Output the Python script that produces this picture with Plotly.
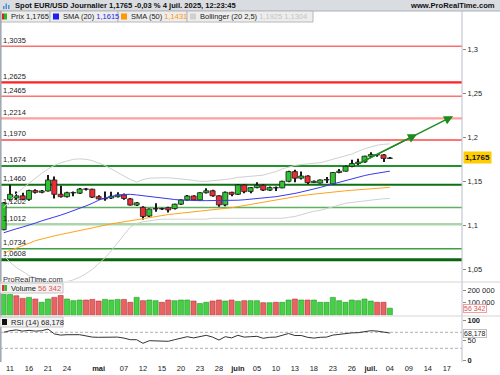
import plotly.graph_objects as go

# ---------------- data ----------------
dates = ["10/04", "11/04", "14/04", "15/04", "16/04", "17/04", "18/04", "21/04", "22/04", "23/04",
         "24/04", "25/04", "28/04", "29/04", "30/04", "01/05", "02/05", "05/05", "06/05", "07/05",
         "08/05", "09/05", "12/05", "13/05", "14/05", "15/05", "16/05", "19/05", "20/05", "21/05",
         "22/05", "23/05", "26/05", "27/05", "28/05", "29/05", "30/05", "02/06", "03/06", "04/06",
         "05/06", "06/06", "09/06", "10/06", "11/06", "12/06", "13/06", "16/06", "17/06", "18/06",
         "19/06", "20/06", "23/06", "24/06", "25/06", "26/06", "27/06", "30/06", "01/07", "02/07",
         "03/07", "04/07"]
future_dates = ["07/07", "08/07", "09/07", "10/07", "11/07", "14/07", "15/07", "16/07", "17/07",
                "18/07", "21/07"]

opens = [1.0950, 1.1295, 1.1310, 1.1335, 1.1295, 1.1395, 1.1375, 1.1390, 1.1515, 1.1352,
         1.1325, 1.1368, 1.1365, 1.1412, 1.1410, 1.1325, 1.1300, 1.1310, 1.1325, 1.1345,
         1.1300, 1.1230, 1.1205, 1.1105, 1.1185, 1.1190, 1.1200, 1.1190, 1.1240, 1.1288,
         1.1333, 1.1288, 1.1370, 1.1392, 1.1335, 1.1232, 1.1375, 1.1352, 1.1458, 1.1385,
         1.1428, 1.1455, 1.1400, 1.1428, 1.1425, 1.1500, 1.1610, 1.1535, 1.1560, 1.1485,
         1.1480, 1.1515, 1.1470, 1.1600, 1.1615, 1.1670, 1.1700, 1.1720, 1.1785, 1.1802,
         1.1800, 1.1760]
highs = [1.1265, 1.1460, 1.1385, 1.1370, 1.1405, 1.1410, 1.1400, 1.1572, 1.1555, 1.1450,
         1.1380, 1.1385, 1.1425, 1.1425, 1.1415, 1.1340, 1.1385, 1.1380, 1.1375, 1.1360,
         1.1310, 1.1265, 1.1215, 1.1190, 1.1250, 1.1200, 1.1210, 1.1245, 1.1295, 1.1345,
         1.1340, 1.1375, 1.1420, 1.1405, 1.1340, 1.1385, 1.1380, 1.1465, 1.1465, 1.1435,
         1.1490, 1.1465, 1.1440, 1.1440, 1.1505, 1.1620, 1.1630, 1.1610, 1.1570, 1.1510,
         1.1520, 1.1550, 1.1605, 1.1640, 1.1680, 1.1745, 1.1755, 1.1790, 1.1830, 1.1810,
         1.1810, 1.1775]
lows = [1.0945, 1.1270, 1.1290, 1.1285, 1.1280, 1.1360, 1.1365, 1.1385, 1.1305, 1.1315,
        1.1315, 1.1330, 1.1355, 1.1395, 1.1310, 1.1290, 1.1280, 1.1300, 1.1315, 1.1290,
        1.1225, 1.1220, 1.1065, 1.1095, 1.1155, 1.1175, 1.1145, 1.1180, 1.1230, 1.1280,
        1.1280, 1.1280, 1.1360, 1.1325, 1.1212, 1.1215, 1.1330, 1.1345, 1.1364, 1.1365,
        1.1420, 1.1390, 1.1390, 1.1390, 1.1420, 1.1490, 1.1490, 1.1520, 1.1465, 1.1480,
        1.1475, 1.1480, 1.1465, 1.1590, 1.1610, 1.1660, 1.1685, 1.1710, 1.1775, 1.1780,
        1.1720, 1.1755]
closes = [1.1255, 1.1352, 1.1335, 1.1295, 1.1395, 1.1375, 1.1390, 1.1515, 1.1352, 1.1325,
          1.1370, 1.1372, 1.1412, 1.1410, 1.1320, 1.1300, 1.1305, 1.1330, 1.1345, 1.1305,
          1.1230, 1.1255, 1.1100, 1.1185, 1.1190, 1.1185, 1.1175, 1.1240, 1.1288, 1.1333,
          1.1288, 1.1370, 1.1392, 1.1335, 1.1232, 1.1375, 1.1352, 1.1458, 1.1382, 1.1428,
          1.1455, 1.1400, 1.1428, 1.1425, 1.1500, 1.1610, 1.1535, 1.1560, 1.1485, 1.1500,
          1.1515, 1.1520, 1.1600, 1.1615, 1.1670, 1.1702, 1.1718, 1.1785, 1.1805, 1.1800,
          1.1760, 1.1765]

sma20 = [1.0915, 1.0940, 1.0960, 1.0980, 1.1000, 1.1025, 1.1050, 1.1070, 1.1095, 1.1115,
         1.1140, 1.1165, 1.1190, 1.1220, 1.1250, 1.1285, 1.1310, 1.1330, 1.1344, 1.1350,
         1.1352, 1.1345, 1.1335, 1.1325, 1.1315, 1.1307, 1.1300, 1.1293, 1.1287, 1.1283,
         1.1280, 1.1280, 1.1280, 1.1280, 1.1280, 1.1280, 1.1282, 1.1285, 1.1290, 1.1295,
         1.1302, 1.1310, 1.1318, 1.1325, 1.1335, 1.1348, 1.1362, 1.1378, 1.1393, 1.1410,
         1.1430, 1.1450, 1.1470, 1.1490, 1.1510, 1.1530, 1.1550, 1.1565, 1.1580, 1.1593,
         1.1605, 1.1615]
sma50 = [1.0680, 1.0715, 1.0740, 1.0765, 1.0795, 1.0825, 1.0845, 1.0865, 1.0880, 1.0895,
         1.0910, 1.0928, 1.0945, 1.0962, 1.0978, 1.0992, 1.1004, 1.1016, 1.1028, 1.1040,
         1.1049, 1.1062, 1.1075, 1.1090, 1.1103, 1.1115, 1.1122, 1.1130, 1.1137, 1.1144,
         1.1151, 1.1158, 1.1166, 1.1174, 1.1182, 1.1190, 1.1200, 1.1212, 1.1225, 1.1238,
         1.1252, 1.1266, 1.1280, 1.1293, 1.1305, 1.1318, 1.1328, 1.1337, 1.1346, 1.1355,
         1.1363, 1.1370, 1.1378, 1.1385, 1.1392, 1.1398, 1.1404, 1.1410, 1.1416, 1.1421,
         1.1426, 1.1431]
boll_up = [1.120, 1.128, 1.136, 1.142, 1.148, 1.154, 1.159, 1.164, 1.168, 1.171,
           1.173, 1.175, 1.1755, 1.175, 1.1735, 1.171, 1.168, 1.164, 1.160, 1.156,
           1.152, 1.149, 1.152, 1.1535, 1.154, 1.154, 1.154, 1.1535, 1.153, 1.152,
           1.151, 1.150, 1.150, 1.1505, 1.151, 1.152, 1.153, 1.1545, 1.155, 1.1555,
           1.156, 1.157, 1.159, 1.161, 1.164, 1.166, 1.168, 1.169, 1.170, 1.1705,
           1.171, 1.173, 1.175, 1.177, 1.179, 1.181, 1.184, 1.187, 1.189, 1.191,
           1.1920, 1.1925]
boll_dn = [1.066, 1.058, 1.052, 1.047, 1.043, 1.040, 1.038, 1.036, 1.035, 1.035,
           1.036, 1.038, 1.041, 1.045, 1.050, 1.056, 1.063, 1.071, 1.080, 1.090,
           1.098, 1.102, 1.104, 1.105, 1.106, 1.107, 1.107, 1.107, 1.107, 1.107,
           1.107, 1.107, 1.107, 1.108, 1.108, 1.108, 1.108, 1.108, 1.108, 1.108,
           1.108, 1.108, 1.108, 1.108, 1.108, 1.109, 1.110, 1.112, 1.114, 1.116,
           1.117, 1.119, 1.121, 1.123, 1.125, 1.126, 1.127, 1.128, 1.129, 1.130,
           1.1302, 1.1304]
volumes = [165000, 165000, 155000, 134000, 142000, 129000, 103000, 129000, 142000, 157000,
           129000, 116000, 121000, 121000, 126000, 113000, 126000, 121000, 126000, 126000,
           103000, 142000, 116000, 121000, 116000, 103000, 121000, 116000, 121000, 121000,
           113000, 94000, 103000, 113000, 121000, 113000, 121000, 110000, 116000, 116000,
           116000, 100000, 100000, 103000, 103000, 121000, 129000, 121000, 121000, 121000,
           103000, 103000, 142000, 116000, 103000, 121000, 116000, 129000, 113000, 103000,
           103000, 56342]
rsi = [70, 74, 76, 73, 75, 73, 74, 78, 66, 63,
       64, 64, 64, 61, 58, 57.5, 57.5, 59, 58, 55.5,
       51.5, 51.5, 42.5, 49, 49, 48, 47.5, 51.5, 56, 59,
       56, 60, 62.5, 58, 50.7, 59, 56, 62.5, 58, 59,
       60, 55, 57.5, 58, 62.5, 67, 62, 62, 57.5, 55.5,
       57.5, 58, 63, 65, 67.5, 68.5, 69, 72, 74, 73,
       70, 68.178]

levels = [1.3035, 1.2625, 1.2465, 1.2214, 1.1970, 1.1674, 1.1460, 1.1202, 1.1012, 1.0734, 1.0608]
level_labels = ["1,3035", "1,2625", "1,2465", "1,2214", "1,1970", "1,1674", "1,1460", "1,1202",
                "1,1012", "1,0734", "1,0608"]

trend_dates = ["27/06", "18/07"]
trend_prices = [1.1697, 1.2240]

tick_dates = ["11/04", "16/04", "21/04", "24/04", "01/05", "07/05", "12/05", "15/05", "20/05",
              "23/05", "28/05", "02/06", "05/06", "10/06", "13/06", "18/06", "23/06", "26/06",
              "01/07", "04/07", "09/07", "14/07", "17/07"]
tick_labels = ["11", "16", "21", "24", "<b>mai</b>", "07", "12", "15", "20", "23", "28",
               "<b>juin</b>", "05", "10", "13", "18", "23", "26", "<b>juil.</b>", "04", "09",
               "14", "17"]

price_ticks = [1.05, 1.1, 1.15, 1.2, 1.25, 1.3]
price_tick_text = ["1,05", "1,1", "1,15", "1,2", "1,25", "1,3"]

# --------------- styling / layout helpers ---------------
W, H = 500, 375
ML, MR, MT, MB = 0, 38, 22, 13
PW, PH = W - ML - MR, H - MT - MB
FONT = "Liberation Sans, Arial, sans-serif"


def xp(px):
    return (px - ML) / PW


def yp(py):
    return (H - MB - py) / PH


all_dates = dates + future_dates
pos_of = {d: i - 1 for i, d in enumerate(all_dates)}
xs = [pos_of[d] for d in dates]

GREEN = "#2fc42f"
RED = "#ee2e2e"

fig = go.Figure()

# candle wicks (thin bars), then bodies on top
fig.add_trace(go.Bar(x=xs, y=[h - l for h, l in zip(highs, lows)], base=lows, width=0.16,
                     marker=dict(color="#1a1a1a", line=dict(width=0)), yaxis="y"))
body_h = [max(abs(c - o), 0.00012) for o, c in zip(opens, closes)]
body_b = [min(o, c) if abs(c - o) >= 0.00012 else (o + c) / 2 - 0.00006
          for o, c in zip(opens, closes)]
body_col = [GREEN if c >= o else RED for o, c in zip(opens, closes)]
fig.add_trace(go.Bar(x=xs, y=body_h, base=body_b, width=0.8,
                     marker=dict(color=body_col, line=dict(color="#1a1a1a", width=0.8)),
                     yaxis="y"))

# Bollinger
fig.add_trace(go.Scatter(x=xs, y=boll_up, mode="lines", line=dict(color="#d0d0d0", width=1),
                         yaxis="y"))
fig.add_trace(go.Scatter(x=xs, y=boll_dn, mode="lines", line=dict(color="#d0d0d0", width=1),
                         yaxis="y"))
# SMAs
fig.add_trace(go.Scatter(x=xs, y=sma50, mode="lines", line=dict(color="#ffa21a", width=1),
                         yaxis="y"))
fig.add_trace(go.Scatter(x=xs, y=sma20, mode="lines", line=dict(color="#3838f0", width=1),
                         yaxis="y"))

# volume
vol_colors = []
vol_lines = []
for i, c in enumerate(closes):
    up = i == 0 or c >= closes[i - 1]
    vol_colors.append("#45d045" if up else "#e86464")
    vol_lines.append("#229922" if up else "#b83030")
fig.add_trace(go.Bar(x=xs, y=volumes, yaxis="y2", width=0.8,
                     marker=dict(color=vol_colors, line=dict(color=vol_lines, width=0.6))))

# RSI
fig.add_trace(go.Scatter(x=xs, y=rsi, mode="lines", line=dict(color="#333333", width=1),
                         yaxis="y3"))

shapes = []
annotations = []

level_colors = ["#ff6e6e", "#ff2020", "#ff7272", "#ffa0a0", "#ff4646",
                "#24922a", "#0f6f14", "#5fb062", "#a9d6aa", "#3f9f42", "#0b650f"]
level_widths = [1.5, 2.2, 1.5, 2.2, 1.5, 2, 2, 1.5, 2.5, 1.5, 3]
for lv, lab, col, lw in zip(levels, level_labels, level_colors, level_widths):
    shapes.append(dict(type="line", xref="paper", yref="y", x0=0, x1=1, y0=lv, y1=lv,
                       line=dict(color=col, width=lw), layer="below"))
    annotations.append(dict(x=xp(1), y=lv, xref="paper", yref="y", text=lab, showarrow=False,
                            xanchor="left", yanchor="middle", yshift=6,
                            font=dict(family=FONT, size=7.5, color="#222222")))

# trend arrow
tx = [pos_of[d] for d in trend_dates]
ACOL = "#1c8a1c"
annotations.append(dict(x=tx[1], y=trend_prices[1], ax=tx[0], ay=trend_prices[0],
                        xref="x", yref="y", axref="x", ayref="y", showarrow=True, text="",
                        arrowhead=2, arrowsize=1.3, arrowwidth=1.4, arrowcolor=ACOL))
f = 0.62
annotations.append(dict(x=tx[0] + f * (tx[1] - tx[0]),
                        y=trend_prices[0] + f * (trend_prices[1] - trend_prices[0]),
                        ax=tx[0], ay=trend_prices[0],
                        xref="x", yref="y", axref="x", ayref="y", showarrow=True, text="",
                        arrowhead=2, arrowsize=1.3, arrowwidth=1.4, arrowcolor=ACOL))

# RSI dashed guides
for lv in (70, 30):
    shapes.append(dict(type="line", xref="paper", yref="y3", x0=0, x1=1, y0=lv, y1=lv,
                       line=dict(color="#b0b0b0", width=1, dash="3px,2px"), layer="below"))

# header strip
shapes.append(dict(type="rect", xref="paper", yref="paper", x0=xp(0), x1=xp(500),
                   y0=yp(11), y1=yp(0), fillcolor="#d9dde2", line=dict(width=0), layer="above"))
shapes.append(dict(type="line", xref="paper", yref="paper", x0=xp(0), x1=xp(500),
                   y0=yp(11), y1=yp(11), line=dict(color="#a8b0b8", width=1)))
# legend boxes
for a, b in [(0, 50), (50, 118), (118, 187), (187, 313)]:
    shapes.append(dict(type="rect", xref="paper", yref="paper", x0=xp(a), x1=xp(b),
                       y0=yp(22), y1=yp(11), fillcolor="#ededed",
                       line=dict(color="#b8b8b8", width=1)))
# legend icons
icon_specs = [(2, 4, "#dd2222"), (4, 7, "#22bb22"), (53, 59, "#2020ee"), (121, 127, "#ff9900"),
              (190, 196, "#d0d0d0")]
for a, b, col in icon_specs:
    shapes.append(dict(type="rect", xref="paper", yref="paper", x0=xp(a), x1=xp(b),
                       y0=yp(19.5), y1=yp(13.5), fillcolor=col, line=dict(width=0)))
# title icon
for a, b, t in [(3, 4.5, 6), (5.5, 7, 3.5), (8, 9.5, 5)]:
    shapes.append(dict(type="rect", xref="paper", yref="paper", x0=xp(a), x1=xp(b),
                       y0=yp(9), y1=yp(t), fillcolor="#4a90d0", line=dict(width=0)))

# frame lines
shapes.append(dict(type="line", xref="paper", yref="paper", x0=xp(0.8), x1=xp(0.8),
                   y0=yp(362), y1=yp(11), line=dict(color="#a2aab4", width=1.6)))
shapes.append(dict(type="line", xref="paper", yref="paper", x0=1, x1=1,
                   y0=yp(362), y1=yp(11), line=dict(color="#b8c0c8", width=1)))
for yy in (282, 316):
    shapes.append(dict(type="line", xref="paper", yref="paper", x0=0, x1=xp(500),
                       y0=yp(yy), y1=yp(yy), line=dict(color="#d4d4d4", width=1)))
# volume / rsi legend boxes
for y0, y1 in [(283, 293), (317, 327)]:
    shapes.append(dict(type="rect", xref="paper", yref="paper", x0=xp(0), x1=xp(63),
                       y0=yp(y1), y1=yp(y0), fillcolor="#f2f2f2",
                       line=dict(color="#c4c4c4", width=1)))
shapes.append(dict(type="rect", xref="paper", yref="paper", x0=xp(2), x1=xp(4.5),
                   y0=yp(291), y1=yp(285), fillcolor="#dd3333", line=dict(width=0)))
shapes.append(dict(type="rect", xref="paper", yref="paper", x0=xp(4.5), x1=xp(7),
                   y0=yp(291), y1=yp(285), fillcolor="#33bb33", line=dict(width=0)))
shapes.append(dict(type="rect", xref="paper", yref="paper", x0=xp(2), x1=xp(7),
                   y0=yp(325), y1=yp(319), fillcolor="#111111", line=dict(width=0)))


def txt(x, y, text, size=7.5, color="#1a1a1a", anchor="left", bold=False, **kw):
    if bold:
        text = "<b>" + text + "</b>"
    annotations.append(dict(x=xp(x), y=yp(y), xref="paper", yref="paper", text=text,
                            showarrow=False, xanchor=anchor, yanchor="middle",
                            font=dict(family=FONT, size=size, color=color), **kw))


last_close = "1,1765"
txt(13, 5.5, "Spot EUR/USD Journalier " + last_close + " -0,03 % 4 juil. 2025, 12:23:45",
    size=7.6, bold=True, color="#111111")
txt(497, 5.5, "www.ProRealTime.com", size=7.6, bold=True, color="#111111", anchor="right")
txt(9, 16.5, "Prix " + last_close)
txt(61, 16.5, "SMA (20) <span style='color:#2626e6'>1,1615</span>")
txt(129, 16.5, "SMA (50) <span style='color:#ff9900'>1,1431</span>")
txt(198, 16.5, "Bollinger (20 2,5) <span style='color:#c4c4c4'>1,1925 1,1304</span>")
txt(1, 279, "ProRealTime.com", color="#333333")
txt(9, 288, "Volume <span style='color:#e05050'>56 342</span>")
txt(9, 322, "RSI (14) 68,178")

# right-side value boxes
annotations.append(dict(x=1, y=closes[-1], xref="paper", yref="y", text="<b>" + last_close + "</b>",
                        showarrow=False, xanchor="left", xshift=1, bgcolor="#ffcc00",
                        borderpad=1, font=dict(family=FONT, size=8, color="#111111")))
annotations.append(dict(x=1, y=volumes[-1], xref="paper", yref="y2", text="56 342",
                        showarrow=False, xanchor="left", xshift=1, bgcolor="#ffffff",
                        bordercolor="#f0a0a0", borderwidth=1, borderpad=0,
                        font=dict(family=FONT, size=7, color="#e05050")))
annotations.append(dict(x=1, y=rsi[-1], xref="paper", yref="y3", text="68,178",
                        showarrow=False, xanchor="left", xshift=1, bgcolor="#ffffff",
                        bordercolor="#c0c0c0", borderwidth=1, borderpad=0,
                        font=dict(family=FONT, size=7, color="#222222")))

tick_font = dict(family=FONT, size=7.5, color="#222222")
fig.update_layout(
    width=W, height=H, margin=dict(l=ML, r=MR, t=MT, b=MB),
    paper_bgcolor="white", plot_bgcolor="white", showlegend=False,
    shapes=shapes, annotations=annotations, hovermode=False, barmode="overlay",
    xaxis=dict(range=[-1.58, 71.4], tickvals=[pos_of[d] for d in tick_dates],
               ticktext=tick_labels, showgrid=False, zeroline=False, anchor="y3",
               ticks="", tickfont=tick_font, showline=False),
    yaxis=dict(domain=[yp(281), 1], range=[1.0367, 1.3310], side="right", anchor="x",
               tickvals=price_ticks, ticktext=price_tick_text, showgrid=False,
               zeroline=False, ticks="outside", ticklen=3, tickcolor="#888888",
               tickfont=tick_font),
    yaxis2=dict(domain=[yp(315.3), yp(283)], range=[0, 256000], side="right", anchor="x",
                tickvals=[100000, 200000], ticktext=["100 000", "200 000"], showgrid=False,
                zeroline=False, ticks="outside", ticklen=3, tickcolor="#888888",
                tickfont=tick_font),
    yaxis3=dict(domain=[0, yp(317)], range=[-4.25, 108.25], side="right", anchor="x",
                tickvals=[0, 50, 100], ticktext=["<b>0</b>", "50", "<b>100</b>"],
                showgrid=False, zeroline=False, ticks="outside", ticklen=3,
                tickcolor="#888888", tickfont=tick_font),
)

fig.write_html("out.html")
